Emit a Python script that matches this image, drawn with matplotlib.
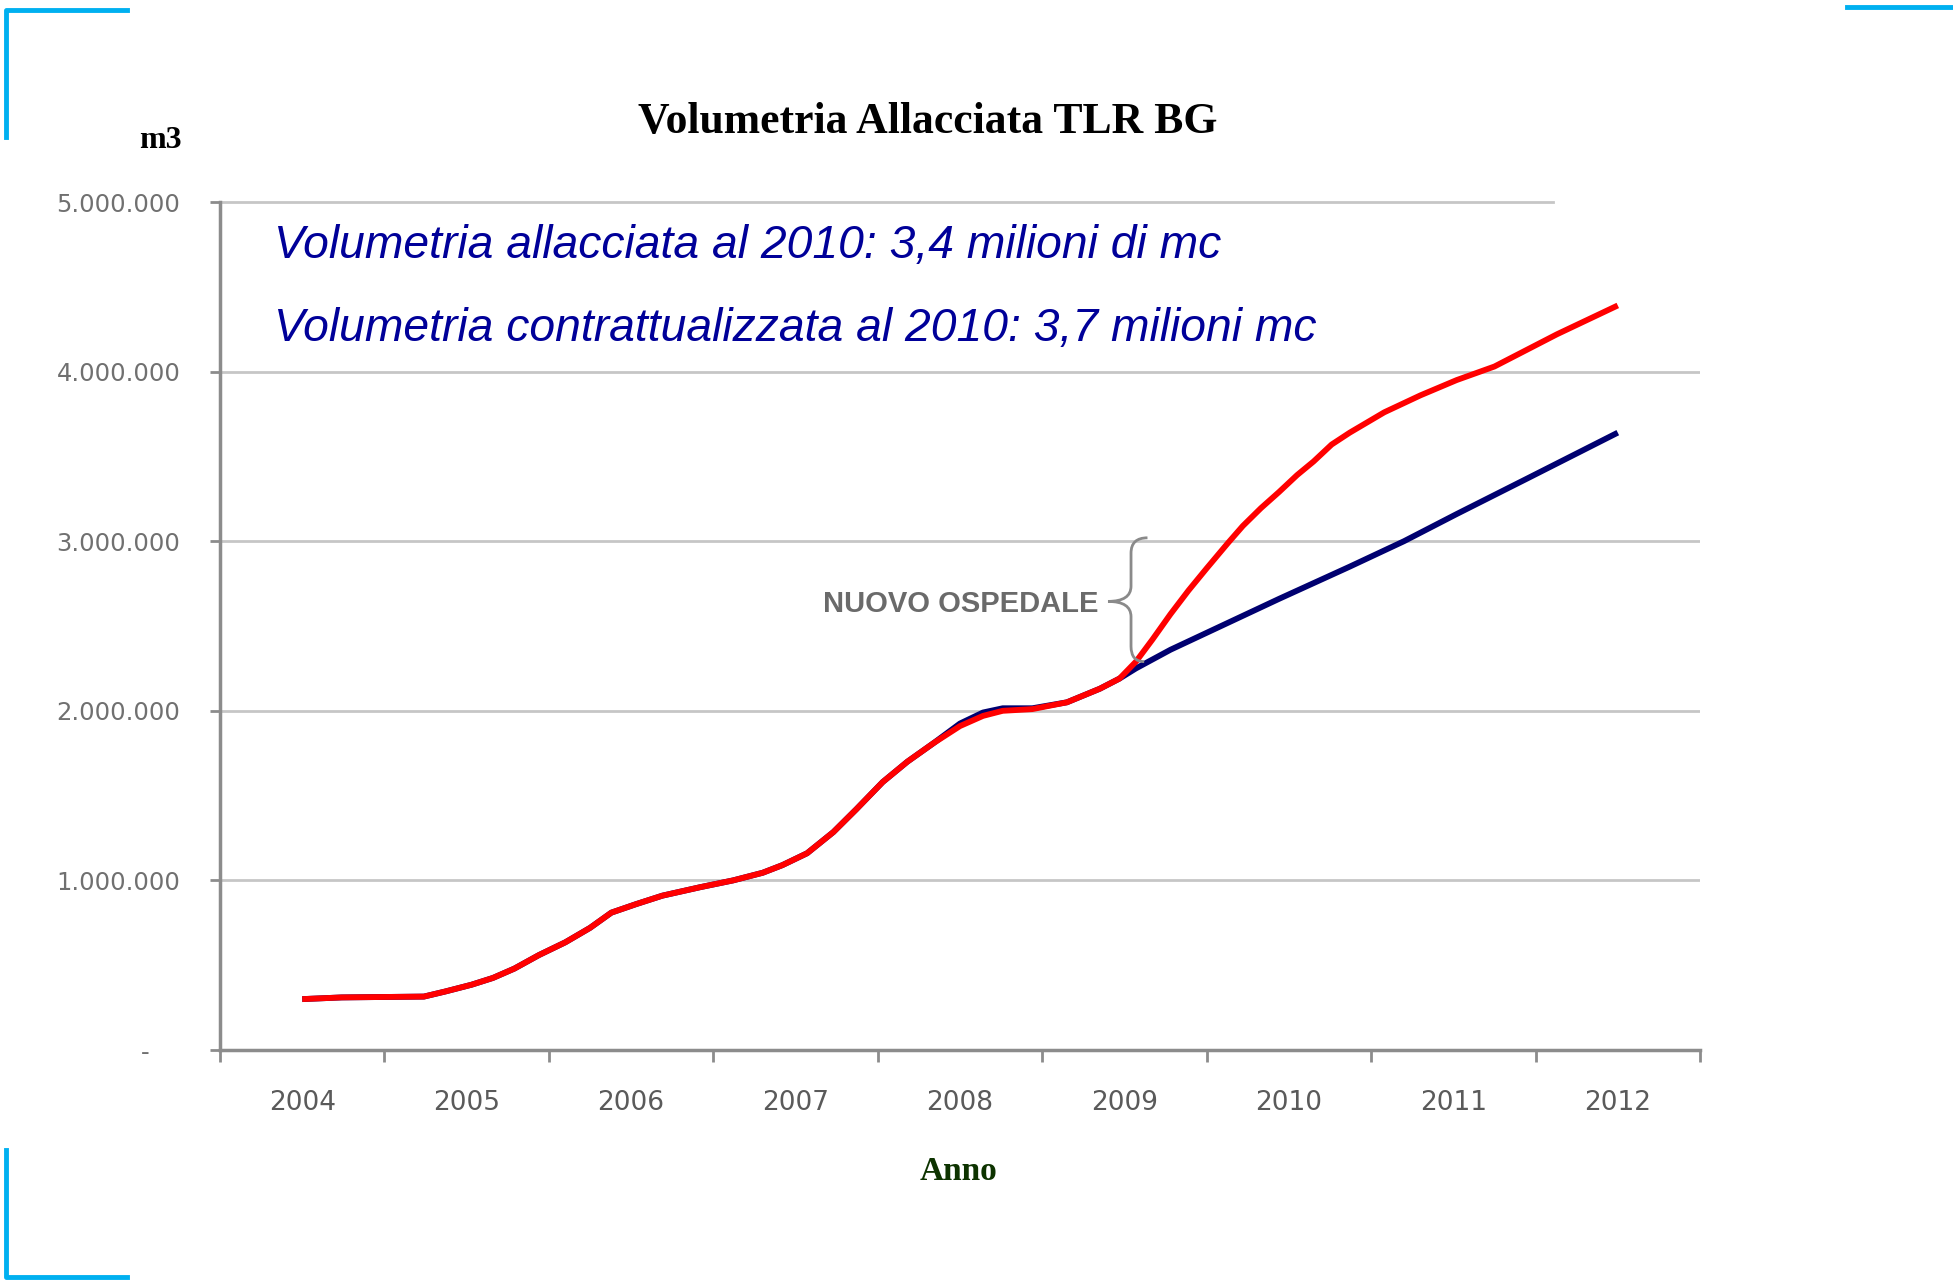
import numpy as np
import matplotlib
matplotlib.use("Agg")
import matplotlib.pyplot as plt
from matplotlib.lines import Line2D
from matplotlib.path import Path
from matplotlib.patches import PathPatch
from matplotlib.ticker import FuncFormatter

# data (x = year position, y = million m3)
anni = [2004, 2005, 2006, 2007, 2008, 2009, 2010, 2011, 2012]

x_allacciata = [2004.00, 2004.24, 2004.74, 2004.87, 2005.03, 2005.16, 2005.29, 2005.44,
                2005.60, 2005.75, 2005.88, 2006.03, 2006.19, 2006.42, 2006.62, 2006.80,
                2006.92, 2007.07, 2007.23, 2007.37, 2007.53, 2007.68, 2007.84, 2008.00,
                2008.14, 2008.26, 2008.44, 2008.65, 2008.85, 2008.97, 2009.07, 2009.17,
                2009.28, 2009.39, 2009.50, 2009.63, 2009.72, 2009.83, 2009.94, 2010.05,
                2010.15, 2010.26, 2010.37, 2010.58, 2010.80, 2011.02, 2011.25, 2011.63,
                2012.00]
y_allacciata = [0.300, 0.310, 0.315, 0.345, 0.385, 0.425, 0.480, 0.560,
                0.635, 0.720, 0.810, 0.860, 0.910, 0.960, 1.000, 1.045,
                1.090, 1.160, 1.285, 1.420, 1.580, 1.700, 1.810, 1.910,
                1.970, 2.000, 2.010, 2.050, 2.130, 2.190, 2.290, 2.420,
                2.570, 2.710, 2.840, 2.990, 3.090, 3.195, 3.290, 3.390,
                3.470, 3.570, 3.640, 3.760, 3.860, 3.950, 4.030, 4.220,
                4.390]

x_contratto = [2004.00, 2004.24, 2004.74, 2004.87, 2005.03, 2005.16, 2005.29, 2005.44,
               2005.60, 2005.75, 2005.88, 2006.03, 2006.19, 2006.42, 2006.62, 2006.80,
               2006.92, 2007.07, 2007.23, 2007.37, 2007.53, 2007.68, 2007.84, 2008.00,
               2008.14, 2008.26, 2008.44, 2008.65, 2008.85, 2008.97, 2009.07, 2009.28,
               2009.50, 2009.94, 2010.37, 2010.70, 2011.02, 2011.45, 2012.00]
y_contratto = [0.300, 0.310, 0.315, 0.345, 0.385, 0.425, 0.480, 0.560,
               0.635, 0.720, 0.810, 0.860, 0.910, 0.960, 1.000, 1.045,
               1.090, 1.160, 1.285, 1.420, 1.580, 1.700, 1.810, 1.925,
               1.990, 2.015, 2.015, 2.050, 2.130, 2.190, 2.250, 2.360,
               2.460, 2.660, 2.850, 3.000, 3.160, 3.370, 3.640]

W, H = 1953, 1281


def px(x, y):
    return x / W, 1 - y / H


fig = plt.figure(figsize=(W / 100, H / 100), dpi=100)
ax = fig.add_axes([220 / W, 1 - 1050 / H, 1480 / W, 848 / H])

ax.set_xlim(2003.5, 2012.5)
ax.set_ylim(0, 5e6)

grid_c = "#c6c6c6"
for v in [1e6, 2e6, 3e6, 4e6]:
    ax.axhline(v, color=grid_c, lw=2, zorder=1)
ax.axhline(5e6, xmax=0.901, color=grid_c, lw=2, zorder=1, clip_on=False)

ax.plot(x_contratto, np.array(y_contratto) * 1e6, color="#000070", lw=4.2, zorder=3,
        solid_capstyle="butt", solid_joinstyle="round")
ax.plot(x_allacciata, np.array(y_allacciata) * 1e6, color="#ff0000", lw=4.2, zorder=4,
        solid_capstyle="butt", solid_joinstyle="round")

for s in ["top", "right"]:
    ax.spines[s].set_visible(False)
for s in ["left", "bottom"]:
    ax.spines[s].set_color("#8c8c8c")
    ax.spines[s].set_linewidth(2.5)

ax.set_yticks(np.arange(0, 5.01e6, 1e6))
ax.yaxis.set_major_formatter(FuncFormatter(
    lambda v, p: "-    " if v == 0 else f"{v:,.0f}".replace(",", ".")))
ax.tick_params(axis="y", length=7.5, width=2, color="#8c8c8c", pad=21,
               labelsize=17.5, labelcolor="#707070")

ax.set_xticks([a - 0.5 for a in anni] + [anni[-1] + 0.5])
ax.set_xticklabels([])
ax.set_xticks(anni, minor=True)
ax.set_xticklabels([str(a) for a in anni], minor=True)
ax.tick_params(axis="x", which="major", length=8.5, width=2, color="#8c8c8c")
ax.tick_params(axis="x", which="minor", length=0, pad=29, labelsize=19,
               labelcolor="#5a5a5a")

# brace annotation
xv, xt = 2009.04, 2008.90
yt, ym, yb = 3.02e6, 2.645e6, 2.29e6
d = 0.09e6
verts = [(2009.14, yt), (xv, yt), (xv, yt - d),
         (xv, ym + d), (xv, ym), (xt, ym),
         (xv, ym), (xv, ym - d),
         (xv, yb + d), (xv, yb), (2009.12, yb)]
codes = [Path.MOVETO, Path.CURVE3, Path.CURVE3,
         Path.LINETO, Path.CURVE3, Path.CURVE3,
         Path.CURVE3, Path.CURVE3,
         Path.LINETO, Path.CURVE3, Path.CURVE3]
ax.add_patch(PathPatch(Path(verts, codes), fill=False, edgecolor="#8a8a8a", lw=2,
                       zorder=5))
ax.text(2008.84, 2.63e6, "NUOVO OSPEDALE", ha="right", va="center", fontsize=21,
        fontweight="bold", color="#6a6a6a", family="Liberation Sans", zorder=5)

# texts
fig.text(*px(928, 122), "Volumetria Allacciata TLR BG", ha="center", va="center",
         fontsize=31.5, family="Liberation Serif", fontweight="bold", color="black")
fig.text(*px(160, 140), "m3", ha="center", va="center", fontsize=23,
         family="Liberation Serif", fontweight="bold")
fig.text(*px(958, 1171), "Anno", ha="center", va="center", fontsize=24,
         family="Liberation Serif", fontweight="bold", color="#0d3300")
fig.text(*px(274, 246), "Volumetria allacciata al 2010: 3,4 milioni di mc",
         ha="left", va="center", fontsize=33.3, style="italic", color="#000099",
         family="Liberation Sans")
fig.text(*px(274, 329), "Volumetria contrattualizzata al 2010: 3,7 milioni mc",
         ha="left", va="center", fontsize=33.3, style="italic", color="#000099",
         family="Liberation Sans")

# cyan corner marks
cy = "#00b0f0"
for xs, ys in [([6, 6, 127], [137, 10, 10]),
               ([1847, 1953], [7, 7]),
               ([6, 6, 127], [1150, 1277, 1277])]:
    fig.add_artist(Line2D([x / W for x in xs], [1 - y / H for y in ys],
                          color=cy, lw=3.5, transform=fig.transFigure))

fig.savefig("out.png", dpi=100, facecolor="white")
